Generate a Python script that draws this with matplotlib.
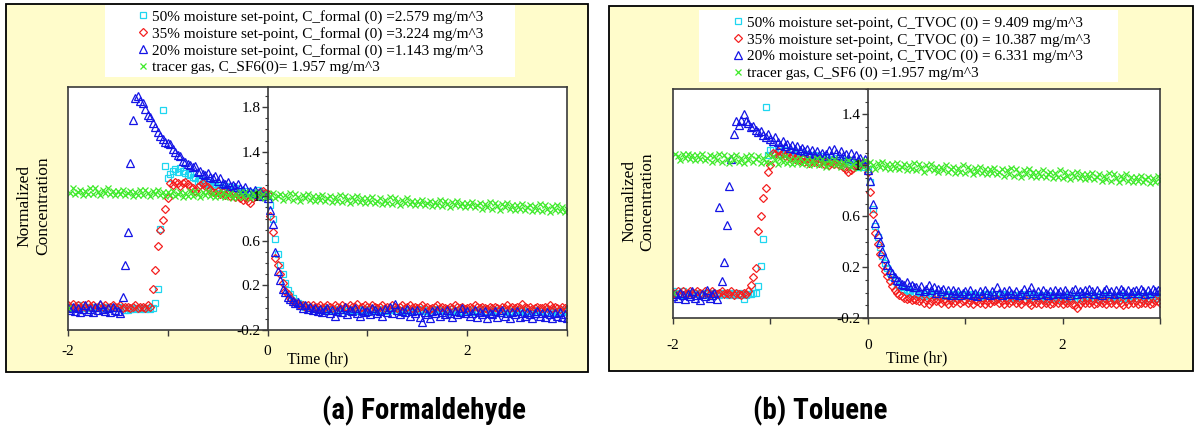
import numpy as np
import matplotlib
matplotlib.use("Agg")
import matplotlib.pyplot as plt
from matplotlib.patches import Rectangle
from matplotlib.ticker import MultipleLocator, FixedLocator, FixedFormatter, FuncFormatter

plt.rcParams['font.family'] = ['Liberation Serif', 'DejaVu Serif']
plt.rcParams['axes.unicode_minus'] = False

W, H = 1195, 429

# sample times (hr), one reading every 1.5 min; purge starts at t = 0
time_hr = np.linspace(-2, 3, 201)

# ---- (a) formaldehyde, normalized concentration ----
form_50 = [
    0.01, 0.00, 0.01, 0.00, 0.02, 0.00, 0.01, 0.00, 0.01, 0.00,
    0.00, 0.01, 0.00, 0.01, 0.00, 0.01, 0.00, 0.01, 0.00, 0.01,
    0.00, 0.01, 0.00, -0.02, -0.02, -0.01, 0.00, -0.01, 0.00, -0.01,
    0.00, -0.01, 0.00, -0.01, 0.00, 0.04, 0.17, 0.71, 1.77, 1.27,
    1.16, 1.20, 1.23, 1.24, 1.22, 1.25, 1.23, 1.21, 1.19, 1.20,
    1.17, 1.16, 1.14, 1.15, 1.12, 1.11, 1.13, 1.10, 1.09, 1.11,
    1.08, 1.10, 1.07, 1.09, 1.06, 1.08, 1.05, 1.07, 1.04, 1.05,
    1.03, 1.05, 1.02, 1.04, 1.01, 1.03, 1.06, 1.04, 1.02, 1.03,
    1.00, 0.92, 0.80, 0.62, 0.48, 0.38, 0.30, 0.22, 0.16, 0.12,
    0.09, 0.06, 0.04, 0.03, 0.02, 0.01, 0.01, 0.00, 0.00, -0.01,
    -0.01, -0.02, -0.01, 0.00, -0.02, -0.01, -0.02, -0.03, -0.01, -0.02,
    -0.02, -0.01, -0.03, -0.02, -0.01, -0.02, -0.03, -0.02, -0.01, -0.02,
    -0.01, -0.03, -0.02, -0.01, -0.02, -0.03, -0.01, -0.02, -0.03, -0.02,
    -0.02, -0.01, -0.03, -0.02, -0.03, -0.01, -0.02, -0.03, -0.02, -0.01,
    -0.03, -0.02, -0.01, -0.03, -0.02, -0.04, -0.02, -0.01, -0.03, -0.02,
    -0.02, -0.03, -0.02, -0.04, -0.01, -0.03, -0.02, -0.03, -0.04, -0.02,
    -0.03, -0.02, -0.04, -0.03, -0.02, -0.03, -0.01, -0.03, -0.04, -0.02,
    -0.03, -0.04, -0.02, -0.03, -0.05, -0.03, -0.02, -0.04, -0.03, -0.02,
    -0.04, -0.03, -0.02, -0.04, -0.03, -0.05, -0.03, -0.02, -0.04, -0.03,
    -0.03, -0.05, -0.04, -0.02, -0.04, -0.03, -0.05, -0.03, -0.04, -0.02,
    -0.03]
form_35 = [
    0.02, 0.01, 0.03, 0.01, 0.02, 0.00, 0.02, 0.01, 0.03, 0.01,
    0.02, 0.00, 0.01, 0.02, 0.01, 0.02, 0.00, 0.01, 0.02, 0.01,
    0.01, 0.02, 0.00, 0.01, 0.01, 0.00, 0.01, 0.02, 0.00, 0.01,
    0.01, 0.00, 0.02, 0.01, 0.17, 0.34, 0.55, 0.70, 0.79, 0.89,
    0.98, 1.12, 1.10, 1.13, 1.12, 1.09, 1.12, 1.13, 1.11, 1.08,
    1.07, 1.05, 1.08, 1.10, 1.12, 1.09, 1.08, 1.06, 1.04, 1.03,
    1.05, 1.02, 1.04, 1.01, 1.03, 1.00, 1.02, 0.99, 1.01, 0.98,
    0.97, 0.99, 0.96, 0.94, 0.98, 1.00, 1.02, 1.04, 1.05, 1.03,
    1.02, 0.82, 0.68, 0.45, 0.38, 0.30, 0.22, 0.15, 0.12, 0.09,
    0.06, 0.04, 0.03, 0.02, 0.02, 0.01, 0.02, 0.01, 0.02, 0.01,
    0.01, 0.02, 0.00, 0.01, 0.02, 0.01, 0.00, 0.02, 0.01, 0.00,
    0.02, 0.01, 0.00, 0.02, 0.01, 0.01, 0.03, 0.00, 0.01, 0.02,
    0.01, 0.00, 0.02, 0.01, 0.00, 0.01, 0.02, 0.00, 0.01, 0.00,
    0.02, 0.01, 0.00, 0.01, 0.02, 0.00, 0.01, 0.02, 0.00, 0.01,
    0.00, 0.01, 0.02, 0.00, 0.01, -0.01, 0.00, 0.01, 0.02, 0.00,
    0.01, 0.00, -0.01, 0.01, 0.00, 0.02, 0.01, 0.00, 0.01, -0.01,
    0.00, 0.01, 0.00, 0.02, 0.01, 0.00, 0.01, 0.00, -0.01, 0.01,
    0.00, 0.01, 0.00, -0.01, 0.01, 0.00, 0.02, 0.00, 0.01, 0.00,
    0.01, 0.00, 0.03, 0.01, 0.00, 0.01, -0.01, 0.00, 0.01, 0.00,
    0.00, 0.01, 0.00, 0.02, 0.00, 0.01, 0.00, -0.01, 0.01, 0.00,
    -0.01]
form_20 = [
    0.00, -0.02, 0.01, -0.03, 0.00, -0.04, -0.01, 0.02, -0.03, -0.01,
    -0.04, 0.01, -0.02, 0.03, -0.01, -0.03, 0.00, -0.04, 0.01, -0.02,
    -0.03, -0.05, 0.10, 0.38, 0.68, 1.30, 1.68, 1.88, 1.90, 1.85,
    1.84, 1.78, 1.73, 1.71, 1.66, 1.62, 1.58, 1.54, 1.51, 1.49,
    1.48, 1.47, 1.42, 1.40, 1.37, 1.36, 1.32, 1.31, 1.29, 1.28,
    1.26, 1.27, 1.22, 1.23, 1.20, 1.19, 1.21, 1.17, 1.16, 1.18,
    1.14, 1.16, 1.12, 1.11, 1.13, 1.09, 1.10, 1.08, 1.11, 1.07,
    1.06, 1.08, 1.04, 1.05, 1.03, 1.06, 1.02, 1.04, 1.00, 1.01,
    0.98, 0.88, 0.75, 0.50, 0.33, 0.25, 0.17, 0.14, 0.10, 0.08,
    0.06, 0.04, 0.05, 0.02, 0.00, 0.02, -0.01, 0.01, -0.02, 0.00,
    -0.03, -0.01, -0.04, -0.02, 0.00, -0.05, -0.02, -0.07, -0.03, -0.01,
    -0.04, 0.01, -0.06, -0.02, -0.03, 0.00, -0.05, -0.07, -0.02, -0.04,
    -0.03, -0.06, 0.00, -0.02, -0.05, -0.03, -0.07, -0.01, -0.04, 0.01,
    -0.05, 0.03, -0.02, -0.06, -0.03, -0.04, -0.01, -0.07, -0.03, -0.05,
    -0.02, -0.08, -0.13, -0.04, -0.06, -0.09, -0.03, -0.05, -0.02, -0.07,
    -0.04, -0.06, -0.02, -0.05, -0.08, -0.03, -0.06, -0.04, 0.00, -0.05,
    -0.03, -0.07, -0.05, -0.02, -0.08, -0.04, -0.06, -0.03, -0.09, -0.05,
    -0.06, -0.03, -0.08, -0.04, -0.02, -0.07, -0.05, -0.09, -0.04, -0.06,
    -0.03, -0.08, -0.05, -0.07, -0.04, -0.06, -0.09, -0.05, -0.03, -0.07,
    -0.05, -0.08, -0.04, -0.06, -0.09, -0.05, -0.07, -0.04, -0.08, -0.06,
    -0.09]
form_sf6 = [
    0.00, 1.03, 1.07, 1.02, 1.04, 1.06, 1.01, 1.05, 1.02, 1.07,
    1.02, 1.07, 1.04, 1.01, 1.06, 1.03, 1.07, 1.02, 1.05, 1.01,
    1.05, 1.02, 1.06, 1.01, 1.03, 1.05, 1.00, 1.04, 1.01, 1.06,
    1.01, 1.06, 1.03, 1.00, 1.05, 1.02, 1.06, 1.01, 1.04, 1.00,
    1.04, 1.01, 1.05, 1.00, 1.02, 1.04, 0.99, 1.03, 1.00, 1.05,
    1.00, 1.05, 1.02, 0.99, 1.04, 1.01, 1.05, 1.00, 1.03, 0.99,
    1.03, 1.00, 1.04, 0.99, 1.01, 1.03, 0.98, 1.02, 0.99, 1.04,
    0.99, 1.04, 1.01, 0.98, 1.03, 1.00, 1.04, 0.99, 1.02, 0.98,
    1.02, 0.99, 1.03, 0.98, 1.00, 1.02, 0.97, 1.01, 0.98, 1.03,
    0.97, 1.02, 0.99, 0.96, 1.01, 0.98, 1.02, 0.97, 1.00, 0.96,
    1.00, 0.97, 1.01, 0.96, 0.98, 1.00, 0.95, 0.99, 0.96, 1.01,
    0.95, 1.00, 0.97, 0.94, 0.99, 0.96, 1.00, 0.95, 0.98, 0.94,
    0.98, 0.95, 0.99, 0.94, 0.96, 0.98, 0.93, 0.97, 0.94, 0.99,
    0.93, 0.98, 0.95, 0.92, 0.97, 0.94, 0.98, 0.93, 0.96, 0.92,
    0.96, 0.93, 0.97, 0.92, 0.94, 0.96, 0.91, 0.95, 0.92, 0.97,
    0.91, 0.96, 0.93, 0.90, 0.95, 0.92, 0.96, 0.91, 0.94, 0.90,
    0.94, 0.91, 0.95, 0.90, 0.92, 0.94, 0.89, 0.93, 0.90, 0.95,
    0.89, 0.94, 0.91, 0.88, 0.93, 0.90, 0.94, 0.89, 0.92, 0.88,
    0.92, 0.89, 0.93, 0.88, 0.90, 0.92, 0.87, 0.91, 0.88, 0.93,
    0.87, 0.92, 0.89, 0.86, 0.91, 0.88, 0.92, 0.87, 0.90, 0.86,
    0.89]

# ---- (b) toluene (TVOC), normalized concentration ----
tol_50 = [
    0.01, -0.01, 0.00, -0.02, 0.01, -0.01, 0.00, -0.02, 0.00, -0.01,
    0.00, -0.02, -0.01, 0.00, -0.01, -0.03, 0.00, -0.01, 0.00, -0.02,
    -0.01, 0.00, -0.01, -0.02, 0.00, -0.01, -0.02, 0.00, -0.01, -0.05,
    -0.02, -0.01, -0.01, 0.00, 0.00, 0.05, 0.21, 0.42, 1.46, 1.08,
    1.12, 1.14, 1.10, 1.13, 1.11, 1.09, 1.12, 1.10, 1.08, 1.11,
    1.09, 1.07, 1.10, 1.08, 1.06, 1.09, 1.07, 1.05, 1.08, 1.06,
    1.05, 1.07, 1.04, 1.06, 1.03, 1.05, 1.04, 1.06, 1.03, 1.04,
    1.02, 1.04, 1.01, 1.03, 1.00, 1.02, 0.99, 1.01, 1.00, 0.99,
    0.97, 0.87, 0.66, 0.52, 0.44, 0.36, 0.29, 0.23, 0.19, 0.15,
    0.12, 0.09, 0.07, 0.05, 0.04, 0.03, 0.02, 0.01, 0.00, 0.00,
    -0.01, -0.02, 0.00, -0.03, -0.01, -0.02, 0.00, -0.02, -0.03, -0.01,
    -0.02, -0.03, -0.01, -0.02, -0.04, -0.02, -0.01, -0.03, -0.02, -0.01,
    -0.03, -0.02, -0.04, -0.01, -0.03, -0.02, -0.04, -0.03, -0.01, -0.02,
    -0.03, -0.01, -0.02, -0.04, -0.02, -0.03, -0.01, -0.02, -0.04, -0.03,
    -0.02, -0.04, -0.03, -0.01, -0.03, -0.02, -0.04, -0.03, -0.02, -0.03,
    -0.04, -0.02, -0.03, -0.05, -0.03, -0.02, -0.04, -0.03, -0.05, -0.03,
    -0.03, -0.05, -0.04, -0.02, -0.04, -0.03, -0.05, -0.04, -0.02, -0.04,
    -0.03, -0.04, -0.02, -0.04, -0.03, -0.05, -0.03, -0.04, -0.02, -0.03,
    -0.04, -0.03, -0.05, -0.03, -0.02, -0.04, -0.03, -0.05, -0.04, -0.03,
    -0.04, -0.02, -0.03, -0.05, -0.03, -0.04, -0.02, -0.03, -0.04, -0.03,
    -0.03]
tol_35 = [
    0.00, -0.01, 0.01, 0.00, 0.01, -0.01, 0.00, 0.01, -0.01, 0.00,
    0.01, 0.00, -0.01, 0.01, 0.00, -0.01, 0.01, 0.00, -0.01, 0.00,
    0.01, -0.01, 0.00, -0.01, 0.01, -0.02, 0.00, -0.01, -0.02, 0.00,
    -0.01, 0.01, 0.06, 0.12, 0.19, 0.48, 0.60, 0.74, 0.82, 0.95,
    1.00, 1.10, 1.09, 1.11, 1.08, 1.10, 1.07, 1.09, 1.06, 1.08,
    1.05, 1.07, 1.04, 1.06, 1.03, 1.05, 1.02, 1.04, 1.03, 1.05,
    1.02, 1.04, 1.01, 1.03, 1.00, 1.02, 1.01, 1.03, 1.00, 1.02,
    0.99, 0.97, 0.95, 0.96, 0.98, 1.00, 1.02, 1.01, 1.03, 1.02,
    0.95, 0.79, 0.62, 0.47, 0.38, 0.30, 0.22, 0.17, 0.13, 0.09,
    0.05, 0.02, 0.00, -0.02, -0.03, -0.04, -0.05, -0.04, -0.06, -0.05,
    -0.06, -0.07, -0.05, -0.08, -0.06, -0.09, -0.07, -0.05, -0.07, -0.06,
    -0.08, -0.06, -0.07, -0.09, -0.06, -0.08, -0.07, -0.05, -0.08, -0.07,
    -0.06, -0.08, -0.07, -0.09, -0.06, -0.07, -0.08, -0.06, -0.09, -0.07,
    -0.08, -0.06, -0.07, -0.05, -0.08, -0.07, -0.09, -0.06, -0.08, -0.07,
    -0.06, -0.08, -0.07, -0.09, -0.07, -0.06, -0.08, -0.10, -0.07, -0.08,
    -0.07, -0.09, -0.06, -0.08, -0.07, -0.09, -0.08, -0.06, -0.08, -0.07,
    -0.09, -0.07, -0.08, -0.06, -0.09, -0.10, -0.12, -0.09, -0.07, -0.08,
    -0.06, -0.08, -0.07, -0.09, -0.08, -0.06, -0.08, -0.07, -0.09, -0.07,
    -0.08, -0.06, -0.09, -0.07, -0.08, -0.10, -0.07, -0.09, -0.06, -0.08,
    -0.07, -0.09, -0.08, -0.06, -0.08, -0.07, -0.09, -0.08, -0.06, -0.07,
    -0.08]
tol_20 = [
    -0.03, -0.01, -0.04, 0.00, -0.02, -0.05, -0.01, -0.03, 0.01, -0.04,
    -0.02, -0.06, -0.01, -0.03, 0.02, -0.04, -0.02, 0.00, -0.05, 0.67,
    0.09, 0.24, 0.53, 0.84, 1.05, 1.25, 1.35, 1.32, 1.36, 1.40,
    1.35, 1.33, 1.30, 1.31, 1.28, 1.26, 1.27, 1.24, 1.22, 1.25,
    1.21, 1.19, 1.22, 1.18, 1.16, 1.19, 1.15, 1.17, 1.14, 1.16,
    1.13, 1.15, 1.12, 1.14, 1.11, 1.13, 1.10, 1.12, 1.09, 1.11,
    1.08, 1.10, 1.07, 1.09, 1.12, 1.08, 1.13, 1.10, 1.08, 1.11,
    1.07, 1.09, 1.06, 1.10, 1.05, 1.08, 1.04, 1.06, 1.03, 1.05,
    0.96, 0.88, 0.70, 0.55, 0.46, 0.40, 0.33, 0.27, 0.22, 0.18,
    0.15, 0.12, 0.10, 0.09, 0.07, 0.06, 0.08, 0.05, 0.06, 0.04,
    0.04, 0.02, 0.05, 0.01, 0.03, 0.06, 0.02, 0.04, 0.00, 0.03,
    0.01, 0.03, -0.01, 0.02, -0.02, 0.02, 0.00, 0.01, -0.02, 0.00,
    0.01, -0.01, 0.02, -0.02, 0.00, -0.03, 0.01, -0.01, 0.02, 0.00,
    -0.02, 0.01, -0.01, 0.04, 0.00, -0.02, 0.01, -0.01, 0.02, 0.00,
    -0.01, 0.01, -0.02, 0.00, 0.03, -0.01, 0.01, 0.04, 0.00, -0.02,
    0.01, -0.01, 0.02, 0.00, -0.02, 0.01, -0.01, 0.02, 0.00, 0.01,
    -0.01, 0.02, 0.00, -0.02, 0.01, 0.03, -0.01, 0.01, 0.00, 0.02,
    0.00, 0.03, 0.01, -0.01, 0.02, 0.00, -0.02, 0.01, 0.03, 0.00,
    0.01, -0.01, 0.02, 0.00, 0.03, 0.01, -0.01, 0.02, 0.00, 0.01,
    0.02, 0.00, 0.03, 0.01, -0.01, 0.02, 0.00, 0.03, 0.01, 0.02,
    0.01]
tol_sf6 = [
    0.00, 1.09, 1.07, 1.04, 1.09, 1.06, 1.09, 1.05, 1.08, 1.04,
    1.08, 1.05, 1.09, 1.04, 1.06, 1.08, 1.03, 1.07, 1.04, 1.09,
    1.03, 1.08, 1.05, 1.02, 1.07, 1.04, 1.08, 1.03, 1.06, 1.02,
    1.07, 1.04, 1.08, 1.03, 1.05, 1.07, 1.02, 1.06, 1.03, 1.08,
    1.02, 1.07, 1.04, 1.01, 1.06, 1.03, 1.07, 1.02, 1.05, 1.01,
    1.05, 1.02, 1.06, 1.01, 1.03, 1.05, 1.00, 1.04, 1.01, 1.06,
    1.00, 1.05, 1.02, 0.99, 1.04, 1.01, 1.05, 1.00, 1.03, 0.99,
    1.03, 1.00, 1.04, 0.99, 1.01, 1.03, 0.98, 1.02, 0.99, 1.04,
    0.98, 1.03, 1.00, 0.97, 1.02, 0.99, 1.03, 0.98, 1.01, 0.97,
    1.01, 0.98, 1.02, 0.97, 0.99, 1.01, 0.96, 1.00, 0.97, 1.02,
    0.96, 1.01, 0.98, 0.95, 1.00, 0.97, 1.01, 0.96, 0.99, 0.95,
    0.99, 0.96, 1.00, 0.95, 0.97, 0.99, 0.94, 0.98, 0.95, 1.00,
    0.94, 0.99, 0.96, 0.93, 0.98, 0.95, 0.99, 0.94, 0.97, 0.93,
    0.97, 0.94, 0.98, 0.93, 0.95, 0.97, 0.92, 0.96, 0.93, 0.98,
    0.92, 0.97, 0.94, 0.91, 0.96, 0.93, 0.97, 0.92, 0.95, 0.91,
    0.95, 0.92, 0.96, 0.91, 0.93, 0.95, 0.90, 0.94, 0.91, 0.96,
    0.90, 0.95, 0.92, 0.89, 0.94, 0.91, 0.95, 0.90, 0.93, 0.89,
    0.93, 0.90, 0.94, 0.89, 0.91, 0.93, 0.88, 0.92, 0.89, 0.94,
    0.88, 0.93, 0.90, 0.87, 0.92, 0.89, 0.93, 0.88, 0.91, 0.87,
    0.91, 0.88, 0.92, 0.87, 0.89, 0.91, 0.86, 0.90, 0.87, 0.92,
    0.88]

form_labels = ["50% moisture set-point, C_formal (0) =2.579 mg/m^3",
               "35% moisture set-point, C_formal (0) =3.224 mg/m^3",
               "20% moisture set-point, C_formal (0) =1.143 mg/m^3",
               "tracer gas, C_SF6(0)= 1.957 mg/m^3"]
tol_labels = ["50% moisture set-point, C_TVOC (0) = 9.409 mg/m^3",
              "35% moisture set-point, C_TVOC (0) = 10.387 mg/m^3",
              "20% moisture set-point, C_TVOC (0) = 6.331 mg/m^3",
              "tracer gas, C_SF6 (0) =1.957 mg/m^3"]

# marker styles: 50%, 35%, 20%, tracer
styles = [dict(marker='s', ms=4.5, mfc='none', mec='#1ED6F0', mew=0.9),
          dict(marker='D', ms=4.0, mfc='none', mec='#F42020', mew=0.9),
          dict(marker='^', ms=5.8, mfc='none', mec='#1414E6', mew=0.9),
          dict(marker='x', ms=5.0, mec='#3EEA2A', mew=0.9)]


def px_box(x0, y0, x1, y1):
    """pixel box (top-left origin) -> figure-fraction rect"""
    return [x0 / W, 1 - y1 / H, (x1 - x0) / W, (y1 - y0) / H]


def draw_panel(fig, frame, axbox, legbox, legpos, series, labels, ylim, ylab_xy, xlab_y, xpad):
    # yellow panel background with black border, white box behind the legend
    fx, fy, fw, fh = px_box(*frame)
    fig.add_artist(Rectangle((fx, fy), fw, fh, transform=fig.transFigure,
                             facecolor='#FFFCCB', edgecolor='black', lw=1.3, zorder=-2))
    lx, ly, lw_, lh = px_box(*legbox)
    fig.add_artist(Rectangle((lx, ly), lw_, lh, transform=fig.transFigure,
                             facecolor='white', edgecolor='none', zorder=-1))

    ax = fig.add_axes(px_box(*axbox))
    ax.set_facecolor('white')
    handles = []
    for vals, st in zip(series, styles):
        h, = ax.plot(time_hr, vals, ls='none', **st)
        handles.append(h)

    ax.set_xlim(-2, 3)
    ax.set_ylim(*ylim)
    for sp in ax.spines.values():
        sp.set_color('#3A3A3A')
        sp.set_linewidth(1.2)

    ax.xaxis.set_major_locator(FixedLocator([-2, -1, 0, 1, 2, 3]))
    ax.xaxis.set_major_formatter(FixedFormatter(['-2', '', '0', '', '2', '']))
    ax.tick_params(axis='x', direction='out', length=4, width=1, labelsize=11,
                   color='#3A3A3A', pad=xpad)
    ax.tick_params(axis='y', left=False, labelleft=False)

    # y axis drawn through t = 0
    sec = ax.secondary_yaxis(0.4)
    sec.set_zorder(5)
    sec.set_yticks(np.arange(-0.2, ylim[1], 0.4))
    sec.yaxis.set_major_formatter(FuncFormatter(lambda v, p: '%g' % round(v, 1)))
    sec.yaxis.set_minor_locator(MultipleLocator(0.1))
    sec.tick_params(which='major', direction='out', length=4, width=1, labelsize=11,
                    color='#3A3A3A', pad=1)
    sec.tick_params(which='minor', direction='out', length=2.5, width=0.8, color='#3A3A3A')
    sec.spines['left'].set_color('#3A3A3A')
    sec.spines['left'].set_linewidth(1.2)

    ax.set_ylabel("Normalized\nConcentration", fontsize=12.5, linespacing=1.2)
    ax.yaxis.set_label_coords(*ylab_xy)
    ax.set_xlabel("Time (hr)", fontsize=11.5)
    ax.xaxis.set_label_coords(0.5, xlab_y)

    ax.legend(handles, labels, loc='upper left', bbox_to_anchor=(legpos[0] / W, 1 - legpos[1] / H),
              bbox_transform=fig.transFigure, frameon=False, fontsize=11,
              handlelength=0.6, handletextpad=0.3, labelspacing=0.19, borderpad=0,
              borderaxespad=0, numpoints=1)
    return ax


fig = plt.figure(figsize=(W / 100, H / 100), dpi=100)

draw_panel(fig, (6, 4, 588, 372), (68, 87, 567, 330), (105, 5, 515, 77), (138, 10),
           [form_50, form_35, form_20, form_sf6], form_labels, (-0.2, 1.98),
           (-0.034, 0.51), -0.09, 7)
draw_panel(fig, (609, 6, 1193, 371), (673, 89, 1160, 318), (699, 10, 1118, 82), (733, 16),
           [tol_50, tol_35, tol_20, tol_sf6], tol_labels, (-0.2, 1.6),
           (-0.036, 0.51), -0.14, 11)

cap_font = ['Roboto Condensed', 'Liberation Sans Narrow', 'Liberation Sans', 'DejaVu Sans']
fig.text(424 / W, 1 - 411 / H, "(a) Formaldehyde", ha='center', va='center',
         fontsize=21, fontweight='bold', family=cap_font)
fig.text(820 / W, 1 - 411 / H, "(b) Toluene", ha='center', va='center',
         fontsize=21, fontweight='bold', family=cap_font)

fig.savefig("out.png", dpi=100, facecolor='white')
